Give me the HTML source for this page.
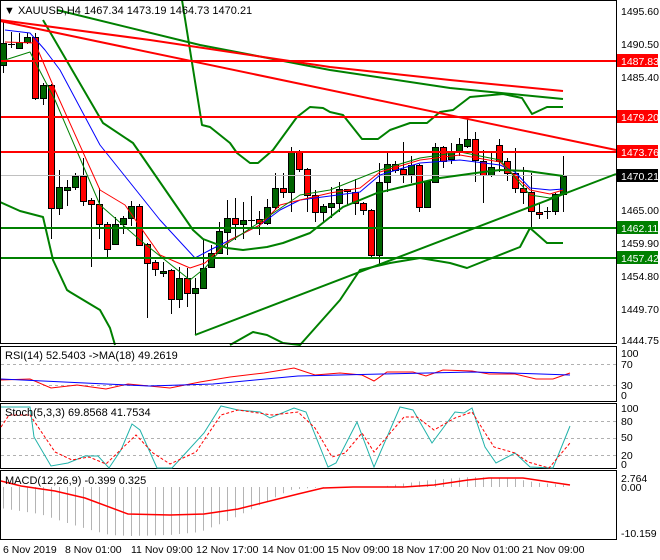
<!DOCTYPE html>
<html><head><meta charset="utf-8"><style>
body{margin:0;background:#fff;}
svg{display:block;font-family:"Liberation Sans",sans-serif;font-size:11px;}
</style></head><body>
<svg id="s" width="660" height="560" xmlns="http://www.w3.org/2000/svg">
<rect width="660" height="560" fill="#fff"/>
<g id="cd"></g>
<g fill="none" stroke-linejoin="round">
<!-- grey current price line -->
<line x1="0" y1="175.5" x2="616" y2="175.5" stroke="#c0c0c0"/>
<!-- EMAs -->
<polyline stroke="#0000ff" stroke-width="1" points="5,30 30,33 45,50 60,70 100,145 120,170 160,220 195,258 210,250 230,240 260,225 280,210 300,200 330,196 360,192 380,175 420,163 460,160 500,165 515,172 530,188 550,190 563,189"/>
<polyline stroke="#ff0000" stroke-width="1" points="5,42 35,43 55,90 100,190 125,205 160,255 190,268 205,263 230,240 260,225 280,205 300,200 330,193 360,188 380,172 420,160 460,155 500,162 530,190 550,194 563,190"/>
<polyline stroke="#008000" stroke-width="1" points="5,60 30,52 55,100 100,205 140,240 190,280 205,268 225,245 260,222 300,195 330,190 380,170 420,158 460,152 500,160 530,195 550,198 563,193"/>
<!-- Bollinger / MAs thick -->
<polyline stroke="#008000" stroke-width="2" points="182,0 202,125 210,127 230,143 237,153 250,163 258,163 273,150 297,117 310,107 323,108 330,112 343,115 362,139 378,139 390,130 410,123 427,123 440,112 453,110 470,97 503,94 522,98 532,114 547,107 563,107"/>
<polyline stroke="#008000" stroke-width="2" points="43,20 103,123 133,143 193,230 203,239 227,248 243,250 267,247 283,243 310,233 343,207 377,193 410,185 440,178 483,172 500,170 527,171 563,176"/>
<polyline stroke="#008000" stroke-width="2" points="0,202 20,211 43,217 53,260 67,290 70,292 100,310 110,328 115,345"/>
<polyline stroke="#008000" stroke-width="2" points="230,345 253,332 267,335 283,343 300,345 340,300 360,270 390,263 420,258 450,263 467,268 487,260 520,247 530,228 547,243 563,243"/>
<polyline stroke="#008000" stroke-width="2" points="57,10 200,45 330,70 450,88 563,99"/>
<polyline stroke="#ff0000" stroke-width="2" points="0,20 150,40 330,67 450,80 563,91"/>
<line x1="0" y1="21" x2="616" y2="150" stroke="#ff0000" stroke-width="2"/>
<line x1="195" y1="335" x2="616" y2="174" stroke="#008000" stroke-width="2"/>
<!-- horizontal levels -->
<line x1="0" y1="61" x2="616" y2="61" stroke="#ff0000" stroke-width="2"/>
<line x1="0" y1="117" x2="616" y2="117" stroke="#ff0000" stroke-width="2"/>
<line x1="0" y1="152" x2="616" y2="152" stroke="#ff0000" stroke-width="2"/>
<line x1="0" y1="228" x2="616" y2="228" stroke="#008000" stroke-width="2"/>
<line x1="0" y1="258" x2="616" y2="258" stroke="#008000" stroke-width="2"/>
</g>
<!-- panel borders -->
<g fill="none" stroke="#000">
<rect x="0.5" y="0.5" width="616" height="343"/>
<rect x="0.5" y="346.5" width="616" height="55"/>
<rect x="0.5" y="403.5" width="616" height="65"/>
<rect x="0.5" y="470.5" width="616" height="69"/>
</g>
<!-- RSI -->
<g fill="none">
<line x1="1" y1="364.5" x2="616" y2="364.5" stroke="#b0b0b0" stroke-dasharray="3,3"/>
<line x1="1" y1="385.5" x2="616" y2="385.5" stroke="#b0b0b0" stroke-dasharray="3,3"/>
<polyline stroke="#ff0000" points="1,380 30,379 51,388 77,385 106,389 128,384 170,388 200,382 230,377 264,373 294,368 315,375 340,373 362,375 374,381 387,372 413,372 426,376 443,370 472,371 489,374 515,374 536,379 553,379 570,373"/>
<polyline stroke="#0000ff" points="1,379 64,382 106,384 149,386 213,384 255,380 298,376 383,374 472,372 511,373 570,375"/>
</g>
<!-- Stoch -->
<g fill="none">
<line x1="1" y1="421.5" x2="616" y2="421.5" stroke="#b0b0b0" stroke-dasharray="3,3"/>
<line x1="1" y1="438.5" x2="616" y2="438.5" stroke="#b0b0b0" stroke-dasharray="3,3"/>
<line x1="1" y1="455.5" x2="616" y2="455.5" stroke="#b0b0b0" stroke-dasharray="3,3"/>
<polyline stroke="#20b2aa" points="1,407 30,407 34,437 51,466 68,463 85,456 98,456 109,468 121,450 132,424 140,430 157,468 172,468 204,433 221,406 238,410 260,412 270,418 294,408 306,412 328,467 336,463 357,422 374,467 400,407 413,410 432,443 455,412 464,413 472,408 485,447 496,463 515,453 530,467 553,468 570,426"/>
<polyline stroke="#ff0000" stroke-dasharray="3,2" points="1,427 9,415 30,415 55,452 72,460 89,457 106,464 136,435 153,453 170,464 196,452 221,415 238,410 272,415 298,412 315,428 332,457 345,453 362,433 374,452 404,417 417,417 434,430 455,418 472,412 494,447 515,453 528,462 549,468 570,443"/>
</g>
<!-- MACD -->
<g id="hist" stroke="#b4b4b4"></g>
<polyline fill="none" stroke="#ff0000" stroke-width="1.5" points="1,481 21,486 55,491 85,498 128,514 170,515 204,514 238,509 298,494 323,488 353,487 404,487 434,485 468,480 489,478 523,478 570,485"/>
<!-- texts -->
<g fill="#000">
<text x="4" y="14">▼ XAUUSD,H4  1467.34 1473.19 1464.73 1470.21</text>
<text x="5" y="359">RSI(14) 52.5403  -&gt;MA(18) 49.2619</text>
<text x="5" y="416">Stoch(5,3,3) 69.8568 41.7534</text>
<text x="5" y="484">MACD(12,26,9) -0.399 0.325</text>
</g>
<g fill="#000" font-size="10.5">
<text x="621" y="15">1495.60</text>
<text x="621" y="48">1490.50</text>
<text x="621" y="81">1485.40</text>
<text x="621" y="214">1465.00</text>
<text x="621" y="247">1459.90</text>
<text x="621" y="280">1454.80</text>
<text x="621" y="313">1449.70</text>
<text x="621" y="344">1444.75</text>
<text x="621" y="357">100</text>
<text x="621" y="368">70</text>
<text x="621" y="389">30</text>
<text x="621" y="399">0</text>
<text x="621" y="412">100</text>
<text x="621" y="425">80</text>
<text x="621" y="441">50</text>
<text x="621" y="459">20</text>
<text x="621" y="468">0</text>
<text x="621" y="482">2.764</text>
<text x="621" y="491">0.00</text>
<text x="621" y="537">-10.159</text>
</g>
<g font-size="10.5">
<rect x="617" y="54" width="41" height="13" fill="#ff0000"/><text x="621" y="65" fill="#fff">1487.83</text>
<rect x="617" y="110" width="41" height="13" fill="#ff0000"/><text x="621" y="121" fill="#fff">1479.20</text>
<rect x="617" y="145" width="41" height="13" fill="#ff0000"/><text x="621" y="156" fill="#fff">1473.76</text>
<rect x="617" y="169" width="41" height="13" fill="#000"/><text x="621" y="180" fill="#fff">1470.21</text>
<rect x="617" y="221" width="41" height="13" fill="#008000"/><text x="621" y="232" fill="#fff">1462.11</text>
<rect x="617" y="251" width="41" height="13" fill="#008000"/><text x="621" y="262" fill="#fff">1457.42</text>
</g>
<g fill="#000" font-size="10.5">
<text x="3" y="553">6 Nov 2019</text>
<text x="65" y="553">8 Nov 01:00</text>
<text x="131" y="553">11 Nov 09:00</text>
<text x="196" y="553">12 Nov 17:00</text>
<text x="262" y="553">14 Nov 01:00</text>
<text x="327" y="553">15 Nov 09:00</text>
<text x="392" y="553">18 Nov 17:00</text>
<text x="457" y="553">20 Nov 01:00</text>
<text x="522" y="553">21 Nov 09:00</text>
</g>
</svg>
<script>
var d=[[65,43,20,73],[44,44,32,48],[48,42,33,48],[42,37,33,44],[37,98,33,100],[98,85,83,105],[85,208,84,239],[208,187,170,215],[190,187,180,206],[187,176,173,190],[176,201,158,206],[200,204,198,267],[204,224,188,239],[224,249,222,257],[244,224,217,245],[224,218,216,234],[218,206,201,226],[206,245,204,246],[244,263,243,318],[262,269,260,276],[273,271,262,277],[270,299,269,314],[299,278,267,308],[278,293,268,307],[293,288,278,335],[288,268,239,288],[267,253,245,268],[253,231,222,254],[232,218,200,255],[218,224,198,240],[224,220,202,239],[220,220,196,228],[219,223,211,235],[223,207,199,225],[207,188,173,210],[188,192,173,198],[192,152,147,212],[152,169,150,172],[169,195,168,212],[195,212,190,222],[212,206,204,222],[207,203,187,218],[203,189,182,212],[189,191,189,205],[192,203,179,215],[203,210,202,215],[210,255,209,259],[255,182,163,265],[182,164,151,192],[164,170,161,173],[169,174,142,183],[174,165,156,183],[165,207,164,212],[207,181,180,208],[182,147,143,183],[147,161,146,168],[159,151,143,164],[151,144,138,156],[146,139,119,148],[139,160,132,182],[161,175,150,203],[175,167,153,177],[145,161,139,172],[161,173,158,181],[173,188,148,193],[188,192,167,204],[192,211,173,227],[212,214,203,219],[211,211,207,219],[211,194,193,215],[194,176,156,212]];
var ns="http://www.w3.org/2000/svg",g=document.getElementById("cd"),s="";
for(var i=0;i<d.length;i++){var x=3+8*i,o=d[i][0],c=d[i][1],h=d[i][2],l=d[i][3];
var t=Math.min(o,c),b=Math.max(o,c);
s+='<line x1="'+(x+.5)+'" y1="'+h+'" x2="'+(x+.5)+'" y2="'+l+'" stroke="#000"/>';
if(b-t<1){s+='<line x1="'+(x-3)+'" y1="'+(t+.5)+'" x2="'+(x+4)+'" y2="'+(t+.5)+'" stroke="#000"/>';}
else s+='<rect x="'+(x-2.5)+'" y="'+(t+.5)+'" width="6" height="'+(b-t)+'" fill="'+(c<o?'#006400':'#ff0000')+'" stroke="#000"/>';}
g.innerHTML=s;
var hp=[[0,508],[40,514],[80,527],[110,535],[130,536],[170,535],[200,532],[230,520],[260,505],[290,490],[310,488],[330,487],[380,487],[400,484],[430,480],[470,477],[510,478],[540,483],[565,485]];
function hv(x){for(var k=0;k<hp.length-1;k++){if(x<=hp[k+1][0]){var a=hp[k],b=hp[k+1];return a[1]+(b[1]-a[1])*(x-a[0])/(b[0]-a[0]);}}return 485;}
var hs="";for(var i=0;i<71;i++){var x=3+8*i+.5,y=hv(x);hs+='<line x1="'+x+'" y1="487" x2="'+x+'" y2="'+y+'"/>';}
document.getElementById("hist").innerHTML=hs;
</script>
</body></html>
